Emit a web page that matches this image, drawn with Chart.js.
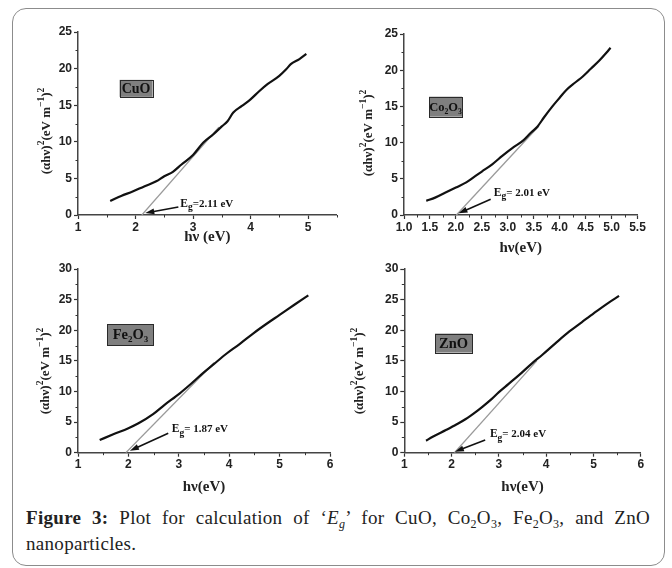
<!DOCTYPE html>
<html>
<head>
<meta charset="utf-8">
<script src="https://cdn.jsdelivr.net/npm/chart.js@4.4.1/dist/chart.umd.min.js"></script>
<style>
  body { margin: 0; width: 672px; height: 568px; background: #fff; position: relative; overflow: hidden; }
  .frame { position: absolute; left: 12px; top: 8px; width: 653px; height: 558px; border: 1.5px solid #8c8c8c; border-radius: 14px; box-sizing: border-box; }
  canvas { position: absolute; }
  .caption { position: absolute; left: 26px; top: 505px; width: 624px; font: 19px/26px "Liberation Serif", serif; letter-spacing: 0.3px; color: #222; text-align: justify; }
  .caption sub { font-size: 12px; line-height: 0; vertical-align: -4px; }
</style>
</head>
<body>
<div class="frame"></div>
<div class="caption"><b>Figure 3:</b> Plot for calculation of ‘<i>E</i><sub><i>g</i></sub>’ for CuO, Co<sub>2</sub>O<sub>3</sub>, Fe<sub>2</sub>O<sub>3</sub>, and ZnO nanoparticles.</div>
<script>
// sample names and band gap labels
const samples = ['CuO', 'Co2O3', 'Fe2O3', 'ZnO'];
const gapLabels = ['=2.11 eV', '= 2.01 eV', '= 1.87 eV', '= 2.04 eV'];

// (αhν)^2 curves
const cuoHv   = [1.56, 1.75, 1.95, 2.15, 2.36, 2.50, 2.65, 2.80, 3.00, 3.18, 3.35, 3.50, 3.60, 3.70, 3.85, 4.00, 4.15, 4.30, 4.50, 4.62, 4.70, 4.85, 4.97];
const cuoAhv2 = [1.9, 2.6, 3.2, 3.9, 4.6, 5.3, 5.9, 6.9, 8.2, 9.9, 11.0, 12.1, 12.8, 14.0, 14.9, 15.8, 16.9, 17.9, 19.0, 19.9, 20.6, 21.3, 22.0];

const coHv   = [1.43, 1.60, 1.80, 2.00, 2.20, 2.40, 2.50, 2.70, 2.90, 3.10, 3.30, 3.45, 3.57, 3.70, 3.86, 4.00, 4.12, 4.30, 4.44, 4.60, 4.76, 4.90, 4.98];
const coAhv2 = [1.95, 2.4, 3.1, 3.8, 4.5, 5.5, 6.0, 7.0, 8.2, 9.3, 10.3, 11.4, 12.2, 13.5, 15.0, 16.2, 17.2, 18.3, 19.1, 20.2, 21.3, 22.4, 23.1];

const feHv   = [1.43, 1.70, 2.00, 2.20, 2.49, 2.70, 3.02, 3.25, 3.48, 3.70, 3.95, 4.20, 4.48, 4.75, 5.00, 5.30, 5.57];
const feAhv2 = [2.07, 3.0, 4.0, 4.8, 6.3, 7.7, 9.7, 11.3, 13.0, 14.5, 16.2, 17.7, 19.5, 21.1, 22.5, 24.2, 25.7];

const znHv   = [1.46, 1.60, 1.88, 2.10, 2.30, 2.50, 2.65, 2.85, 3.00, 3.20, 3.43, 3.70, 3.92, 4.20, 4.49, 4.75, 5.01, 5.30, 5.54];
const znAhv2 = [1.96, 2.6, 3.7, 4.6, 5.5, 6.6, 7.5, 8.8, 9.9, 11.2, 12.7, 14.6, 16.0, 17.9, 19.8, 21.3, 22.8, 24.4, 25.6];

// extrapolated tangent lines
const cuoTanHv = [2.11, 3.45], cuoTanAhv2 = [0, 12.0];
const coTanHv  = [2.01, 3.60], coTanAhv2  = [0, 12.3];
const feTanHv  = [1.95, 3.70], feTanAhv2  = [0, 14.7];
const znTanHv  = [2.06, 3.80], znTanAhv2  = [0, 15.0];

const SERIF = '"Liberation Serif", "Times New Roman", serif';

const panels = [
  { name: samples[0], gap: gapLabels[0], hv: cuoHv, ahv: cuoAhv2, tanHv: cuoTanHv, tanAhv: cuoTanAhv2,
    box: [14, 14, 340, 242], area: [78, 336.8, 32, 215],
    xMin: 1, xMax: 5.5, xStep: 0.5, xMajor: 1, xDec: 0, yMax: 25, xTitle: 'hν (eV)', xTitlePad: 10,
    yTitleAt: [31, 117], tag: [2.01, 17.3, 33, 17, 14], gapAt: [2.78, 1.64], arrow: [2.745, 1.09, 2.17, 0.27] },
  { name: samples[1], gap: gapLabels[1], hv: coHv, ahv: coAhv2, tanHv: coTanHv, tanAhv: coTanAhv2,
    box: [342, 14, 318, 250], area: [404, 637.5, 34, 215],
    xMin: 1, xMax: 5.5, xStep: 0.25, xMajor: 0.5, xDec: 1, yMax: 25, xTitle: 'hν(eV)', xTitlePad: 7,
    yTitleAt: [25, 119], tag: [1.80, 14.96, 33, 20, 12.5], gapAt: [2.73, 3.18], arrow: [2.67, 2.17, 2.05, 0.23] },
  { name: samples[2], gap: gapLabels[2], hv: feHv, ahv: feAhv2, tanHv: feTanHv, tanAhv: feTanAhv2,
    box: [14, 252, 340, 250], area: [78, 330, 269, 452.7],
    xMin: 1, xMax: 6, xStep: 0.5, xMajor: 1, xDec: 0, yMax: 30, xTitle: 'hν(eV)', xTitlePad: 6,
    yTitleAt: [29.5, 119], tag: [2.04, 19.3, 46, 21, 14.5], gapAt: [2.86, 3.98], arrow: [2.79, 3.17, 2.03, 0.33] },
  { name: samples[3], gap: gapLabels[3], hv: znHv, ahv: znAhv2, tanHv: znTanHv, tanAhv: znTanAhv2,
    box: [342, 252, 318, 250], area: [404.3, 640.8, 269, 452.7],
    xMin: 1, xMax: 6, xStep: 0.5, xMajor: 1, xDec: 0, yMax: 30, xTitle: 'hν(eV)', xTitlePad: 6,
    yTitleAt: [15.7, 119], tag: [2.04, 17.9, 37, 19, 14.5], gapAt: [2.81, 3.17], arrow: [2.71, 2.07, 2.07, 0.16] }
];

function isMajor(v, step) {
  const r = v / step;
  return Math.abs(r - Math.round(r)) < 1e-6;
}

// draw a list of text pieces with their own size and vertical shift
function drawRuns(ctx, runs, x, y, center) {
  let w = 0;
  runs.forEach(r => { ctx.font = 'bold ' + r.size + 'px ' + SERIF; r.w = ctx.measureText(r.t).width; w += r.w; });
  let cx = center ? x - w / 2 : x;
  runs.forEach(r => {
    ctx.font = 'bold ' + r.size + 'px ' + SERIF;
    ctx.fillText(r.t, cx, y + (r.dy || 0));
    cx += r.w;
  });
}

function formulaRuns(name, size) {
  return name.match(/[A-Za-z]+|\d+/g).map(p =>
    /\d/.test(p) ? { t: p, size: size * 0.62, dy: size * 0.22 } : { t: p, size: size });
}

const decor = {
  id: 'decor',
  afterDraw(chart, args, o) {
    const { ctx, chartArea: a, scales: { x, y } } = chart;
    ctx.save();
    ctx.strokeStyle = '#333';
    ctx.lineWidth = 1;
    ctx.beginPath();
    x.ticks.forEach(t => {
      if (!isMajor(t.value, o.xMajor)) {
        const px = Math.round(x.getPixelForValue(t.value)) + 0.5;
        ctx.moveTo(px, a.bottom); ctx.lineTo(px, a.bottom + 2.5);
      }
    });
    y.ticks.forEach(t => {
      if (!isMajor(t.value, 5)) {
        const py = Math.round(y.getPixelForValue(t.value)) + 0.5;
        ctx.moveTo(a.left, py); ctx.lineTo(a.left - 2.5, py);
      }
    });
    ctx.stroke();

    // y axis title with superscripts
    ctx.fillStyle = '#222';
    ctx.textBaseline = 'alphabetic';
    ctx.save();
    ctx.translate(o.yTitleAt[0], o.yTitleAt[1]);
    ctx.rotate(-Math.PI / 2);
    drawRuns(ctx, [
      { t: '(αhν)', size: 13 }, { t: '2', size: 9.5, dy: -6 },
      { t: '(eV m', size: 13 }, { t: '−1', size: 9.5, dy: -6 },
      { t: ')', size: 13 }, { t: '2', size: 9.5, dy: -6 }
    ], 0, 5, true);
    ctx.restore();

    // sample tag
    const [tx, ty, tw, th, tf] = o.tag;
    const bx = x.getPixelForValue(tx), by = y.getPixelForValue(ty);
    ctx.fillStyle = '#7f7f7f';
    ctx.fillRect(bx - tw / 2, by - th / 2, tw, th);
    ctx.strokeStyle = '#2a2a2a';
    ctx.lineWidth = 1;
    ctx.strokeRect(Math.round(bx - tw / 2) + 0.5, Math.round(by - th / 2) + 0.5, tw, th);
    ctx.fillStyle = '#111';
    drawRuns(ctx, formulaRuns(o.name, tf), bx, by + tf * 0.33, true);

    // band gap label
    const gx = x.getPixelForValue(o.gapAt[0]), gy = y.getPixelForValue(o.gapAt[1]);
    drawRuns(ctx, [
      { t: 'E', size: 11.5 }, { t: 'g', size: 9.5, dy: 3.5 }, { t: o.gap, size: 11 }
    ], gx, gy + 4, false);

    // arrow
    const x0 = x.getPixelForValue(o.arrow[0]), y0 = y.getPixelForValue(o.arrow[1]);
    const x1 = x.getPixelForValue(o.arrow[2]), y1 = y.getPixelForValue(o.arrow[3]);
    const ang = Math.atan2(y1 - y0, x1 - x0);
    ctx.strokeStyle = '#111';
    ctx.lineWidth = 1.6;
    ctx.beginPath();
    ctx.moveTo(x0, y0);
    ctx.lineTo(x1 - 6 * Math.cos(ang), y1 - 6 * Math.sin(ang));
    ctx.stroke();
    ctx.fillStyle = '#111';
    ctx.beginPath();
    ctx.moveTo(x1, y1);
    ctx.lineTo(x1 - 9 * Math.cos(ang) + 3 * Math.sin(ang), y1 - 9 * Math.sin(ang) - 3 * Math.cos(ang));
    ctx.lineTo(x1 - 9 * Math.cos(ang) - 3 * Math.sin(ang), y1 - 9 * Math.sin(ang) + 3 * Math.cos(ang));
    ctx.closePath();
    ctx.fill();
    ctx.restore();
  }
};

panels.forEach(p => {
  const [cl, ct, cw, ch] = p.box;
  const [L, R, T, B] = p.area;
  const canvas = document.createElement('canvas');
  canvas.width = cw;
  canvas.height = ch;
  canvas.style.left = cl + 'px';
  canvas.style.top = ct + 'px';
  document.body.appendChild(canvas);

  const tickFont = { family: '"Liberation Sans", Arial, sans-serif', size: 12, weight: 'bold' };

  new Chart(canvas, {
    type: 'scatter',
    data: {
      datasets: [
        {
          data: p.hv.map((v, i) => ({ x: v, y: p.ahv[i] })),
          showLine: true, borderColor: '#111', borderWidth: 2.2, pointRadius: 0,
          cubicInterpolationMode: 'monotone'
        },
        {
          data: p.tanHv.map((v, i) => ({ x: v, y: p.tanAhv[i] })),
          showLine: true, borderColor: '#9a9a9a', borderWidth: 1.3, pointRadius: 0
        }
      ]
    },
    options: {
      responsive: false,
      animation: false,
      layout: { padding: { left: 0, right: cl + cw - R, top: T - ct, bottom: 0 } },
      plugins: {
        legend: { display: false },
        tooltip: { enabled: false },
        decor: { name: p.name, gap: p.gap, xMajor: p.xMajor, yTitleAt: p.yTitleAt, tag: p.tag, gapAt: p.gapAt, arrow: p.arrow }
      },
      scales: {
        x: {
          type: 'linear', min: p.xMin, max: p.xMax,
          afterFit: s => { s.height = ct + ch - B; },
          ticks: {
            stepSize: p.xStep, autoSkip: false, maxRotation: 0, padding: 1,
            font: tickFont, color: '#222',
            callback: v => isMajor(v, p.xMajor) ? v.toFixed(p.xDec) : ''
          },
          grid: {
            drawOnChartArea: false, tickLength: 4, tickWidth: 1.2,
            tickColor: c => isMajor(c.tick.value, p.xMajor) ? '#333' : 'rgba(0,0,0,0)'
          },
          border: { display: true, color: '#444', width: 1.5 },
          title: {
            display: true, text: p.xTitle, color: '#222',
            font: { family: SERIF, size: 15, weight: 'bold' },
            padding: { top: 0, bottom: p.xTitlePad }
          }
        },
        y: {
          type: 'linear', min: 0, max: p.yMax,
          afterFit: s => { s.width = L - cl; },
          ticks: {
            stepSize: 2.5, autoSkip: false, padding: 2,
            font: tickFont, color: '#222',
            callback: v => isMajor(v, 5) ? String(v) : ''
          },
          grid: {
            drawOnChartArea: false, tickLength: 4, tickWidth: 1.2,
            tickColor: c => isMajor(c.tick.value, 5) ? '#333' : 'rgba(0,0,0,0)'
          },
          border: { display: true, color: '#444', width: 1.5 }
        }
      }
    },
    plugins: [decor]
  });
});
</script>
</body>
</html>
